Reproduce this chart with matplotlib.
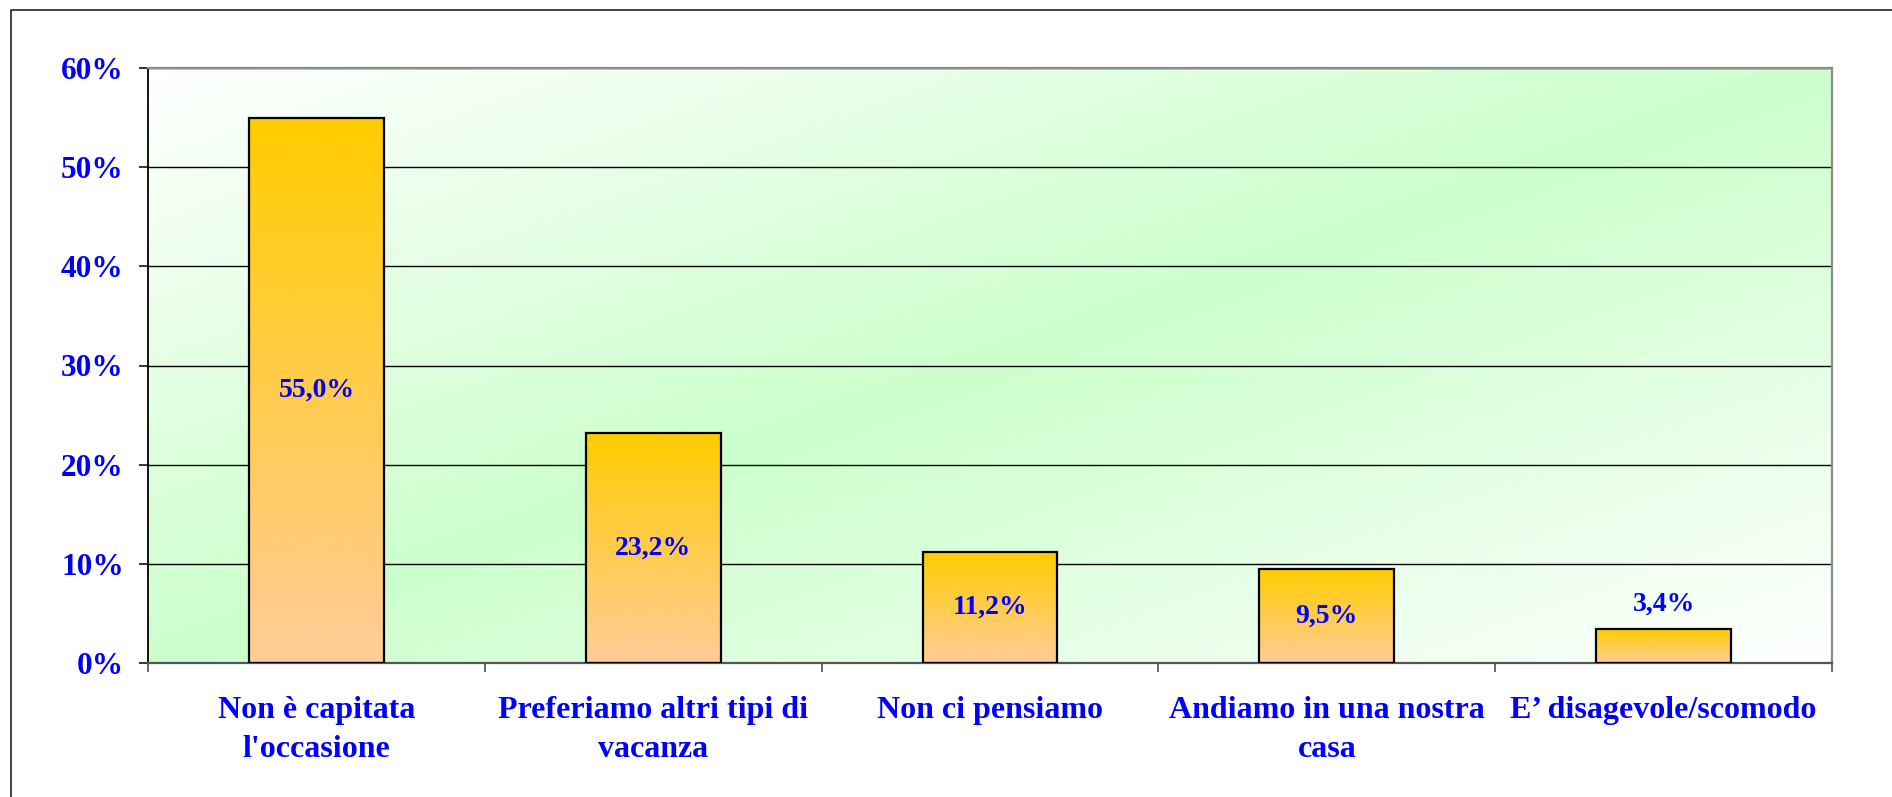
import matplotlib

matplotlib.use("Agg")
import matplotlib.pyplot as plt
import numpy as np
from matplotlib.lines import Line2D

categories = [
    "Non è capitata\nl'occasione",
    "Preferiamo altri tipi di\nvacanza",
    "Non ci pensiamo",
    "Andiamo in una nostra\ncasa",
    "E’ disagevole/scomodo",
]
values = [55.0, 23.2, 11.2, 9.5, 3.4]
y_ticks = [0, 10, 20, 30, 40, 50, 60]

BLUE = "#0000FF"
FONT = ["Liberation Serif", "DejaVu Serif"]


def plot_area_gradient(ax):
    """White in two corners, light green along the bottom-left/top-right diagonal."""
    n = 300
    u, v = np.meshgrid(np.linspace(0, 1, n), np.linspace(1, 0, n))
    s = (u + 1 - v) / 2
    w = 1 - np.abs(2 * s - 1)  # 0 at corners, 1 on the diagonal
    white = np.array([1.0, 1.0, 1.0])
    green = np.array([204, 255, 204]) / 255
    img = white + (green - white) * w[..., None]
    ax.imshow(img, extent=[0, 1, 0, 1], transform=ax.transAxes,
              aspect="auto", zorder=-1, interpolation="bilinear")


def bar_gradient(ax, x, width, height):
    top = np.array([255, 204, 0]) / 255
    bottom = np.array([255, 204, 153]) / 255
    t = np.linspace(0, 1, 100)[:, None, None]
    img = top + (bottom - top) * t
    ax.imshow(img, extent=[x - width / 2, x + width / 2, 0, height],
              aspect="auto", origin="upper", zorder=2, interpolation="bilinear")


def main() -> None:
    fig = plt.figure(figsize=(18.92, 7.97), dpi=100)
    ax = fig.add_axes([148 / 1892, 1 - 663 / 797, (1832 - 148) / 1892, (663 - 68) / 797])
    ax.patch.set_visible(False)

    plot_area_gradient(ax)

    x = np.arange(len(values))
    width = 0.4
    for xi, v in zip(x, values):
        bar_gradient(ax, xi, width, v)
    ax.bar(x, values, width=width, fill=False, edgecolor="black", linewidth=1.6, zorder=3)

    for xi, v in zip(x, values):
        label = f"{v:.1f}".replace(".", ",") + "%"
        if v < 5:
            ax.annotate(label, (xi, v), xytext=(0, 9), textcoords="offset points",
                        ha="center", va="bottom", color=BLUE, fontsize=20,
                        fontweight="bold", family=FONT, zorder=4)
        else:
            ax.text(xi, v / 2, label, ha="center", va="center", color=BLUE,
                    fontsize=20, fontweight="bold", family=FONT, zorder=4)

    ax.set_xlim(-0.5, len(values) - 0.5)
    ax.set_ylim(0, 60)

    ax.set_yticks(y_ticks)
    ax.set_yticklabels([f"{t}%" for t in y_ticks])
    ax.yaxis.grid(True, color="black", linewidth=1.0, zorder=1)
    ax.set_axisbelow(True)
    ax.tick_params(axis="y", length=6.5, width=1.1, color="black", pad=11,
                   labelsize=22.5, labelcolor=BLUE)

    # boundary tick marks, labels sit on minor ticks at bar centers
    ax.set_xticks(np.arange(len(values) + 1) - 0.5)
    ax.set_xticklabels([])
    ax.set_xticks(x, minor=True)
    ax.set_xticklabels(categories, minor=True)
    ax.tick_params(axis="x", which="major", length=6.5, width=1.1, color="#404040")
    ax.tick_params(axis="x", which="minor", length=0, pad=24, labelsize=23,
                   labelcolor=BLUE)

    for lab in ax.get_yticklabels() + ax.get_xticklabels(minor=True):
        lab.set_family(FONT)
        lab.set_fontweight("bold")
    for lab in ax.get_xticklabels(minor=True):
        lab.set_linespacing(1.42)

    ax.spines["left"].set_color("black")
    ax.spines["left"].set_linewidth(1.3)
    ax.spines["bottom"].set_color("#555555")
    ax.spines["bottom"].set_linewidth(1.6)
    for side in ("top", "right"):
        ax.spines[side].set_color("#8c8c8c")
        ax.spines[side].set_linewidth(1.6)

    # chart area border (only left and top fall inside the picture)
    bx, by = 11 / 1892, 1 - 10 / 797
    fig.add_artist(Line2D([bx, bx, 1.01], [-0.01, by, by], transform=fig.transFigure,
                          color="#333333", linewidth=1.3))

    fig.savefig("out.png", dpi=100)


if __name__ == "__main__":
    main()
